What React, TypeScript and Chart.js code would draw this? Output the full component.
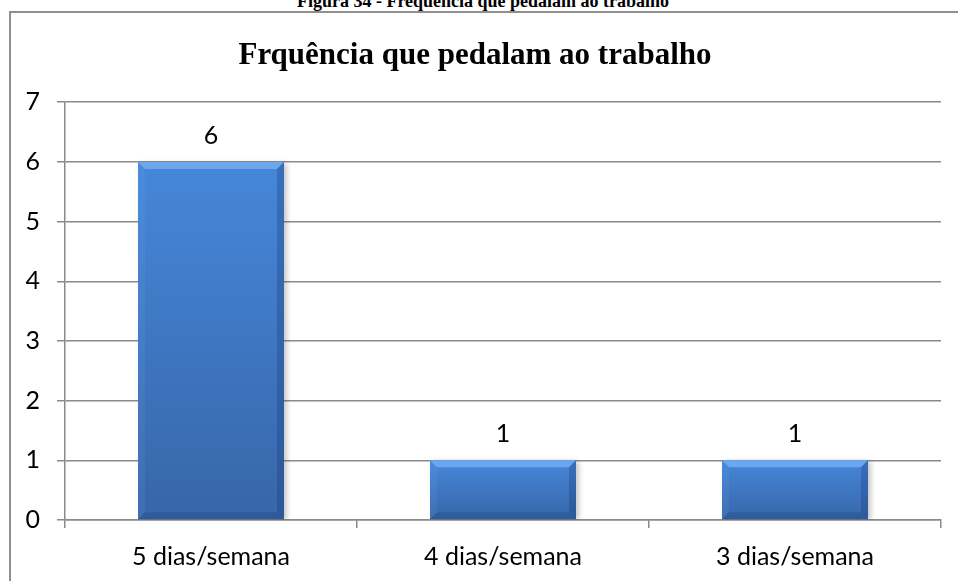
import React, { useEffect, useRef } from "react";
import { Chart, registerables } from "chart.js";

Chart.register(...registerables);

const categories = ["5 dias/semana", "4 dias/semana", "3 dias/semana"];
const values = [6, 1, 1];
const yTicks = [0, 1, 2, 3, 4, 5, 6, 7];
const chartTitle = "Frquência que pedalam ao trabalho";
const caption = "Figura 34 - Frequência que pedalam ao trabalho";

const W = 958;
const H = 581;
const GRID = "#8a8a8a";
const SANS = "Lato, 'Noto Sans', sans-serif";
const SERIF = "'Liberation Serif', 'DejaVu Serif', serif";

const bevelPlugin = {
  id: "bevel",
  beforeDatasetsDraw(chart: any) {
    const ctx = chart.ctx;
    ctx.save();
    ctx.shadowColor = "rgba(0,0,0,0.22)";
    ctx.shadowBlur = 5;
    ctx.shadowOffsetX = 3;
    ctx.shadowOffsetY = 1;
  },
  afterDatasetsDraw(chart: any) {
    const ctx = chart.ctx;
    ctx.restore();
    const meta = chart.getDatasetMeta(0);
    meta.data.forEach((bar: any) => {
      const x0 = bar.x - bar.width / 2;
      const x1 = bar.x + bar.width / 2;
      const y0 = bar.y;
      const y1 = bar.base;
      const b = 7;
      const poly = (pts: number[][], fill: any) => {
        ctx.beginPath();
        ctx.moveTo(pts[0][0], pts[0][1]);
        for (let i = 1; i < pts.length; i++) ctx.lineTo(pts[i][0], pts[i][1]);
        ctx.closePath();
        ctx.fillStyle = fill;
        ctx.fill();
      };
      ctx.save();
      poly([[x0, y0], [x1, y0], [x1 - b, y0 + b], [x0 + b, y0 + b]], "rgba(140,195,255,0.55)");
      poly([[x0, y0], [x0 + b, y0 + b], [x0 + b, y1 - b], [x0, y1]], "rgba(120,170,235,0.12)");
      poly([[x1, y0], [x1, y1], [x1 - b, y1 - b], [x1 - b, y0 + b]], "rgba(20,50,110,0.28)");
      poly([[x0, y1], [x0 + b, y1 - b], [x1 - b, y1 - b], [x1, y1]], "rgba(20,50,110,0.22)");
      ctx.restore();
    });
  },
};

const labelPlugin = {
  id: "valueLabels",
  afterDatasetsDraw(chart: any) {
    const ctx = chart.ctx;
    const meta = chart.getDatasetMeta(0);
    ctx.save();
    ctx.font = `25px ${SANS}`;
    ctx.fillStyle = "#000";
    ctx.textAlign = "center";
    ctx.textBaseline = "middle";
    meta.data.forEach((bar: any, i: number) => {
      ctx.fillText(String(values[i]), bar.x, bar.y - 26);
    });
    ctx.restore();
  },
};

export default function App() {
  const ref = useRef<HTMLCanvasElement | null>(null);

  useEffect(() => {
    if (!ref.current) return;
    const chart = new Chart(ref.current, {
      type: "bar",
      data: {
        labels: categories,
        datasets: [
          {
            data: values,
            barPercentage: 0.5,
            categoryPercentage: 1,
            borderWidth: 0,
            backgroundColor: (c: any) => {
              const ch = c.chart;
              const y = ch.scales && ch.scales.y;
              if (!ch.chartArea || !y || c.parsed == null) return "#3f7bcb";
              const top = y.getPixelForValue(c.parsed.y);
              const bot = y.getPixelForValue(0);
              const g = ch.ctx.createLinearGradient(0, top, 0, bot);
              g.addColorStop(0, "#4687da");
              g.addColorStop(1, "#3766a8");
              return g;
            },
          },
        ],
      },
      options: {
        animation: false,
        responsive: false,
        maintainAspectRatio: false,
        layout: { padding: { left: 9, right: 17, top: 0, bottom: 0 } },
        plugins: {
          legend: { display: false },
          tooltip: { enabled: false },
          title: {
            display: true,
            text: chartTitle,
            color: "#000",
            font: { family: SERIF, size: 31, weight: "bold", lineHeight: 1.2 },
            padding: { top: 37, bottom: 28 },
          },
        },
        scales: {
          x: {
            grid: {
              offset: true,
              drawOnChartArea: false,
              drawTicks: true,
              tickLength: 8,
              color: GRID,
              lineWidth: 1.5,
            },
            border: { display: true, color: GRID, width: 1.5 },
            ticks: {
              color: "#000",
              font: { family: SANS, size: 25 },
              padding: 14,
              maxRotation: 0,
            },
            afterFit: (s: any) => {
              s.height = 61;
            },
          },
          y: {
            min: 0,
            max: 7,
            afterBuildTicks: (s: any) => {
              s.ticks = yTicks.map((v) => ({ value: v }));
            },
            grid: {
              drawTicks: true,
              tickLength: 8,
              color: GRID,
              lineWidth: 1.5,
            },
            border: { display: true, color: GRID, width: 1.5 },
            ticks: {
              color: "#000",
              font: { family: SANS, size: 25 },
              padding: 17,
            },
            afterFit: (s: any) => {
              s.width = 56;
            },
          },
        },
      },
      plugins: [bevelPlugin, labelPlugin],
    });
    return () => chart.destroy();
  }, []);

  return (
    <div
      style={{
        position: "fixed",
        left: 0,
        top: 0,
        width: W,
        height: H,
        overflow: "hidden",
        background: "#fff",
      }}
    >
      <div
        style={{
          position: "absolute",
          left: 9,
          top: 11,
          width: W,
          height: H,
          borderLeft: "2px solid #8f8f8f",
          borderTop: "2px solid #8f8f8f",
        }}
      />
      <div
        style={{
          position: "absolute",
          left: 4,
          top: -8,
          width: W,
          textAlign: "center",
          fontFamily: SERIF,
          fontWeight: "bold",
          fontSize: 18,
          lineHeight: "18px",
          whiteSpace: "nowrap",
          color: "#000",
        }}
      >
        {caption}
      </div>
      <canvas
        ref={ref}
        width={W}
        height={H}
        style={{ position: "absolute", left: 0, top: 0, width: W, height: H }}
      />
    </div>
  );
}
